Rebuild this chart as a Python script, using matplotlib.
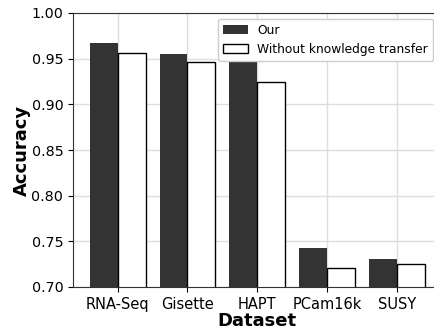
import numpy as np
import matplotlib
matplotlib.use('Agg')
import matplotlib.pyplot as plt

datasets = ['RNA-Seq', 'Gisette', 'HAPT', 'PCam16k', 'SUSY']
our = [0.967, 0.955, 0.952, 0.743, 0.731]
without_kt = [0.956, 0.946, 0.925, 0.721, 0.7255]
yticks = [0.70, 0.75, 0.80, 0.85, 0.90, 0.95, 1.00]

fig = plt.figure(figsize=(4.35, 3.33), dpi=100)
ax = fig.add_axes([73 / 435, 46 / 333, 368.5 / 435, 274 / 333])

x = np.arange(len(datasets))
w = 0.4
ax.bar(x - w / 2, our, w, color='#333333', label='Our', zorder=2)
ax.bar(x + w / 2, without_kt, w, color='white', edgecolor='black',
       linewidth=1, label='Without knowledge transfer', zorder=2)

ax.set_ylim(0.70, 1.00)
ax.set_yticks(yticks)
ax.set_yticklabels([f'{t:.2f}' for t in yticks], fontsize=10.3)
ax.set_xticks(x)
ax.set_xticklabels(datasets, fontsize=10.5)
ax.set_xlim(-0.64, 4.64)

ax.grid(True, color='#dddddd', linewidth=1)
ax.set_axisbelow(True)
for s in ax.spines.values():
    s.set_color('#333333')

ax.set_xlabel('Dataset', fontsize=13, fontweight='bold', labelpad=0)
ax.set_ylabel('Accuracy', fontsize=13, fontweight='bold', labelpad=0)

leg = ax.legend(loc='upper right', bbox_to_anchor=(433 / 435, (333 - 19) / 333),
                bbox_transform=fig.transFigure, borderaxespad=0,
                fontsize=8.8, framealpha=1)
leg.set_zorder(5)

plt.savefig('out.png', dpi=100)
plt.close()
